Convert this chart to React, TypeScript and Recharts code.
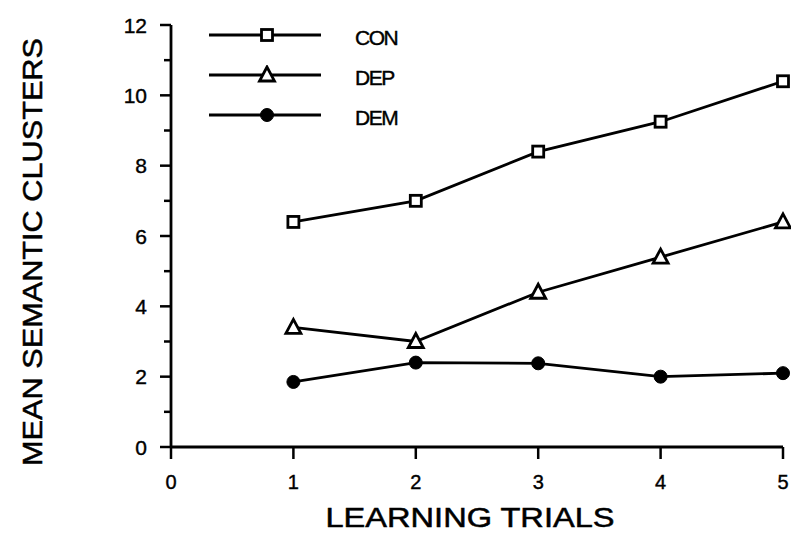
import { LineChart, Line, XAxis, YAxis } from 'recharts';

const trials = [1, 2, 3, 4, 5];
const con = [6.4, 7.0, 8.4, 9.25, 10.4];
const dep = [3.4, 3.0, 4.4, 5.4, 6.4];
const dem = [1.85, 2.4, 2.38, 2.0, 2.1];

const xTicks = [0, 1, 2, 3, 4, 5];
const yTicks = [0, 1, 2, 3, 4, 5, 6, 7, 8, 9, 10, 11, 12];

const data = trials.map((t, i) => ({ trial: t, CON: con[i], DEP: dep[i], DEM: dem[i] }));

const FONT = '"Liberation Sans", Arial, Helvetica, sans-serif';
const INK = '#000';
const Y_TICK = 11;
const Y_GAP = 13;
const X_TICK = 12;
const X_GAP = 16;

type Shape = 'square' | 'triangle' | 'circle';

function Marker({ cx, cy, shape }: { cx: number; cy: number; shape: Shape }) {
  if (shape === 'square') {
    return <rect x={cx - 5.5} y={cy - 5.5} width={11} height={11} fill="#fff" stroke={INK} strokeWidth={2.8} />;
  }
  if (shape === 'triangle') {
    return (
      <polygon
        points={`${cx},${cy - 8} ${cx - 7.5},${cy + 6} ${cx + 7.5},${cy + 6}`}
        fill="#fff"
        stroke={INK}
        strokeWidth={2.8}
      />
    );
  }
  return <circle cx={cx} cy={cy} r={6.5} fill={INK} stroke={INK} />;
}

const series: { key: string; shape: Shape }[] = [
  { key: 'CON', shape: 'square' },
  { key: 'DEP', shape: 'triangle' },
  { key: 'DEM', shape: 'circle' },
];

// y ticks: long ones with labels on even values, short ones on odd values
function YTick(props: any) {
  const { x, y, payload } = props;
  const axisX = x + Y_GAP + Y_TICK;
  const major = payload.value % 2 === 0;
  return (
    <g>
      <line x1={axisX - (major ? Y_TICK : 7)} y1={y} x2={axisX} y2={y} stroke={INK} strokeWidth={2.5} />
      {major && (
        <text x={x} y={y} dy="0.36em" textAnchor="end" fontFamily={FONT} fontSize={21}
          fill={INK} stroke={INK} strokeWidth={0.4}>
          {payload.value}
        </text>
      )}
    </g>
  );
}

function XTick(props: any) {
  const { x, y, payload } = props;
  const axisY = y - X_GAP - X_TICK;
  return (
    <g>
      <line x1={x} y1={axisY} x2={x} y2={axisY + X_TICK} stroke={INK} strokeWidth={2.5} />
      <text x={x} y={y} dy="0.72em" textAnchor="middle" fontFamily={FONT} fontSize={20}
        fill={INK} stroke={INK} strokeWidth={0.4}>
        {payload.value}
      </text>
    </g>
  );
}

function LegendBox() {
  return (
    <div style={{ position: 'absolute', left: 208, top: 15, fontFamily: FONT }}>
      {series.map((s) => (
        <div key={s.key} style={{ display: 'flex', alignItems: 'center', height: 40 }}>
          <svg width={114} height={20} style={{ display: 'block' }}>
            <line x1={1} y1={10} x2={113} y2={10} stroke={INK} strokeWidth={2.8} />
            <Marker cx={59} cy={10} shape={s.shape} />
          </svg>
          <span style={{ marginLeft: 33, paddingTop: 6, fontSize: 21, letterSpacing: -1.5, color: INK,
            WebkitTextStroke: '0.4px #000' }}>{s.key}</span>
        </div>
      ))}
    </div>
  );
}

export default function App() {
  return (
    <div style={{ position: 'absolute', left: 0, top: 0, width: 791, height: 540, background: '#fff' }}>
      <LineChart width={791} height={540} data={data} margin={{ top: 25, right: 8, bottom: 0, left: 0 }}>
        <XAxis
          dataKey="trial"
          type="number"
          domain={[0, 5]}
          ticks={xTicks}
          height={93}
          stroke={INK}
          strokeWidth={2.8}
          tickLine={false}
          tickSize={X_TICK}
          tickMargin={X_GAP}
          tick={<XTick />}
          label={({ viewBox }: any) => (
            <text
              x={470}
              y={viewBox.y + 80}
              textAnchor="middle"
              textLength={289}
              lengthAdjust="spacingAndGlyphs"
              fontFamily={FONT}
              fontSize={27}
              fill={INK}
              stroke={INK}
              strokeWidth={0.5}
            >
              LEARNING TRIALS
            </text>
          )}
        />
        <YAxis
          type="number"
          domain={[0, 12]}
          ticks={yTicks}
          interval={0}
          width={171}
          stroke={INK}
          strokeWidth={2.8}
          tickLine={false}
          tickSize={Y_TICK}
          tickMargin={Y_GAP}
          tick={<YTick />}
          label={({ viewBox }: any) => {
            const x = viewBox.x + 42;
            const y = 252;
            return (
              <text
                x={x}
                y={y}
                transform={`rotate(-90 ${x} ${y})`}
                textAnchor="middle"
                textLength={428}
                lengthAdjust="spacingAndGlyphs"
                fontFamily={FONT}
                fontSize={28}
                fill={INK}
                stroke={INK}
                strokeWidth={0.5}
              >
                MEAN SEMANTIC CLUSTERS
              </text>
            );
          }}
        />
        {series.map((s) => (
          <Line
            key={s.key}
            dataKey={s.key}
            type="linear"
            stroke={INK}
            strokeWidth={2.8}
            isAnimationActive={false}
            dot={(p: any) => <Marker key={`${s.key}-${p.index}`} cx={p.cx} cy={p.cy} shape={s.shape} />}
            activeDot={false}
          />
        ))}
      </LineChart>
      <LegendBox />
    </div>
  );
}
